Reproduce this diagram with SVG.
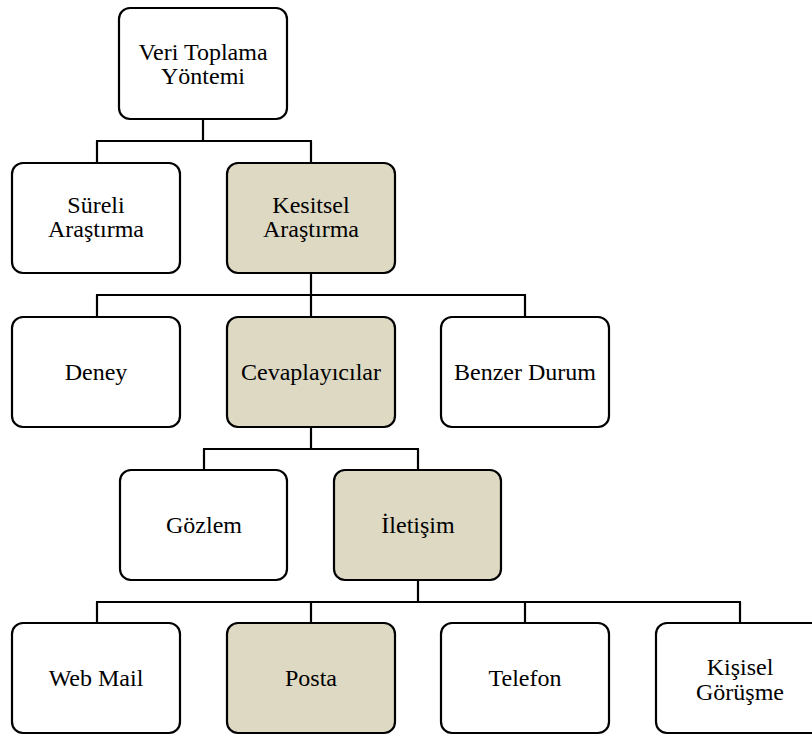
<svg xmlns="http://www.w3.org/2000/svg" width="812" height="735" viewBox="0 0 812 735">
<style>
.box{fill:#ffffff;stroke:#000000;stroke-width:2.2}
.hl{fill:#ddd9c3;stroke:#000000;stroke-width:2.2}
text{font-size:24px;fill:#000000;text-anchor:middle}
.c{fill:none;stroke:#000000;stroke-width:2.2}
</style>
<rect width="812" height="735" fill="#ffffff"/>
<g id="connectors">
<path class="c" d="M203,119 V141 M96,141 H312 M97,141 V163 M311,141 V163"/>
<path class="c" d="M311,273 V295 M96,295 H526 M97,295 V317 M311,295 V317 M525,295 V317"/>
<path class="c" d="M311,427 V449 M203,449 H419 M204,449 V470 M418,449 V470"/>
<path class="c" d="M418,580 V602 M96,602 H741 M97,602 V623 M311,602 V623 M525,602 V623 M740,602 V623"/>
</g>
<g font-family="Liberation Serif, DejaVu Serif, serif">
<g id="n1"><rect class="box" x="119" y="8" width="168" height="111" rx="11"/><text x="203" y="60">Veri Toplama</text><text x="203" y="84">Yöntemi</text></g>
<g id="n2"><rect class="box" x="12" y="163" width="168" height="110" rx="11"/><text x="96" y="213">Süreli</text><text x="96" y="237">Araştırma</text></g>
<g id="n3"><rect class="hl" x="227" y="163" width="168" height="110" rx="11"/><text x="311" y="213">Kesitsel</text><text x="311" y="237">Araştırma</text></g>
<g id="n4"><rect class="box" x="12" y="317" width="168" height="110" rx="11"/><text x="96" y="380">Deney</text></g>
<g id="n5"><rect class="hl" x="227" y="317" width="168" height="110" rx="11"/><text x="311" y="380">Cevaplayıcılar</text></g>
<g id="n6"><rect class="box" x="441" y="317" width="168" height="110" rx="11"/><text x="525" y="380">Benzer Durum</text></g>
<g id="n7"><rect class="box" x="120" y="470" width="167" height="110" rx="11"/><text x="204" y="533">Gözlem</text></g>
<g id="n8"><rect class="hl" x="334" y="470" width="167" height="110" rx="11"/><text x="418" y="533">İletişim</text></g>
<g id="n9"><rect class="box" x="12" y="623" width="168" height="110" rx="11"/><text x="96" y="686">Web Mail</text></g>
<g id="n10"><rect class="hl" x="227" y="623" width="168" height="110" rx="11"/><text x="311" y="686">Posta</text></g>
<g id="n11"><rect class="box" x="441" y="623" width="168" height="110" rx="11"/><text x="525" y="686">Telefon</text></g>
<g id="n12"><rect class="box" x="656" y="623" width="168" height="110" rx="11"/><text x="740" y="675">Kişisel</text><text x="740" y="700">Görüşme</text></g>
</g>
</svg>
